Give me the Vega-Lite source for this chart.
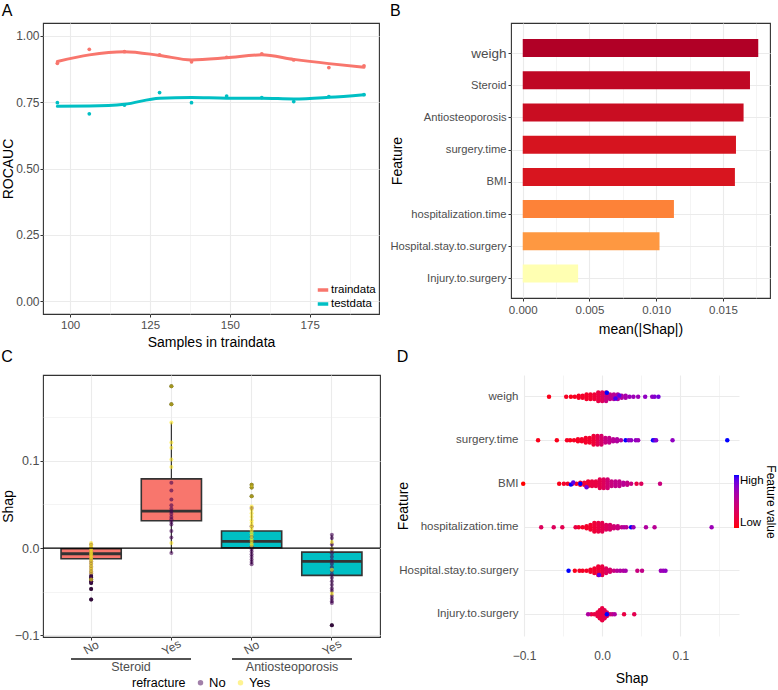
{
"$schema": "https://vega.github.io/schema/vega-lite/v6.json",
"padding": {"left": 0, "top": 2, "right": 0, "bottom": 0},
"config": {
  "font": "Liberation Sans",
  "view": {"stroke": "#333333", "strokeWidth": 1.1},
  "axis": {"domain": false, "labelColor": "#4D4D4D", "labelFontSize": 11.5, "titleFontSize": 14, "titleFontWeight": "normal", "titleColor": "#000000", "tickColor": "#333333", "tickSize": 3, "tickWidth": 1, "labelPadding": 2, "gridColor": "#EBEBEB", "gridWidth": 1.1, "labelFlush": false, "labelOverlap": false},
  "title": {"fontSize": 16, "fontWeight": "normal", "anchor": "start", "color": "#000000"},
  "legend": {"titleFontWeight": "normal", "titleColor": "#000000", "labelColor": "#000000"}
},
"datasets": {
  "rocData": [
    {"n":96,"set":"traindata","auc":0.896,"smooth":0.903},
    {"n":106,"set":"traindata","auc":0.949,"smooth":0.928},
    {"n":117,"set":"traindata","auc":0.940,"smooth":0.940},
    {"n":128,"set":"traindata","auc":0.928,"smooth":0.926},
    {"n":138,"set":"traindata","auc":0.902,"smooth":0.909},
    {"n":149,"set":"traindata","auc":0.919,"smooth":0.917},
    {"n":160,"set":"traindata","auc":0.932,"smooth":0.928},
    {"n":170,"set":"traindata","auc":0.909,"smooth":0.911},
    {"n":181,"set":"traindata","auc":0.880,"smooth":0.895},
    {"n":192,"set":"traindata","auc":0.887,"smooth":0.881},
    {"n":96,"set":"testdata","auc":0.748,"smooth":0.734},
    {"n":106,"set":"testdata","auc":0.706,"smooth":0.735},
    {"n":117,"set":"testdata","auc":0.739,"smooth":0.742},
    {"n":128,"set":"testdata","auc":0.786,"smooth":0.765},
    {"n":138,"set":"testdata","auc":0.748,"smooth":0.767},
    {"n":149,"set":"testdata","auc":0.773,"smooth":0.765},
    {"n":160,"set":"testdata","auc":0.767,"smooth":0.765},
    {"n":170,"set":"testdata","auc":0.752,"smooth":0.762},
    {"n":181,"set":"testdata","auc":0.771,"smooth":0.768},
    {"n":192,"set":"testdata","auc":0.778,"smooth":0.778}
  ],
  "shapImportance": [
    {"feature":"weigh","meanShap":0.01765},
    {"feature":"Steroid","meanShap":0.01703},
    {"feature":"Antiosteoporosis","meanShap":0.01655},
    {"feature":"surgery.time","meanShap":0.01598},
    {"feature":"BMI","meanShap":0.0159},
    {"feature":"hospitalization.time","meanShap":0.01133},
    {"feature":"Hospital.stay.to.surgery","meanShap":0.01025},
    {"feature":"Injury.to.surgery","meanShap":0.00415}
  ],
  "boxStats": [
    {"key":"Steroid No","grp":"Steroid","lower":-0.029,"q1":-0.0122,"median":-0.0065,"q3":-0.0008,"upper":0.0057},
    {"key":"Steroid Yes","grp":"Steroid","lower":-0.0057,"q1":0.0313,"median":0.0424,"q3":0.0794,"upper":0.144},
    {"key":"Antiosteoporosis No","grp":"Antiosteoporosis","lower":-0.0187,"q1":0.0004,"median":0.0076,"q3":0.0195,"upper":0.0477},
    {"key":"Antiosteoporosis Yes","grp":"Antiosteoporosis","lower":-0.063,"q1":-0.0313,"median":-0.0153,"q3":-0.0046,"upper":0.0153}
  ],
  "refracturePoints": [
    {"key":"Steroid No","refracture":"No","shap":0.004},
    {"key":"Steroid No","refracture":"No","shap":0.0},
    {"key":"Steroid No","refracture":"No","shap":-0.004},
    {"key":"Steroid No","refracture":"No","shap":-0.008},
    {"key":"Steroid No","refracture":"No","shap":-0.012},
    {"key":"Steroid No","refracture":"No","shap":-0.015},
    {"key":"Steroid No","refracture":"No","shap":-0.018},
    {"key":"Steroid No","refracture":"No","shap":-0.021},
    {"key":"Steroid No","refracture":"No","shap":-0.024},
    {"key":"Steroid No","refracture":"No","shap":-0.027},
    {"key":"Steroid No","refracture":"No","shap":-0.029},
    {"key":"Steroid No","refracture":"No","shap":-0.032,"outlier":true},
    {"key":"Steroid No","refracture":"No","shap":-0.034,"outlier":true},
    {"key":"Steroid No","refracture":"No","shap":-0.038,"outlier":true},
    {"key":"Steroid No","refracture":"No","shap":-0.040,"outlier":true},
    {"key":"Steroid No","refracture":"No","shap":-0.047,"outlier":true},
    {"key":"Steroid No","refracture":"No","shap":-0.059,"outlier":true},
    {"key":"Steroid No","refracture":"Yes","shap":0.0057},
    {"key":"Steroid No","refracture":"Yes","shap":0.003},
    {"key":"Steroid No","refracture":"Yes","shap":0.001},
    {"key":"Steroid No","refracture":"Yes","shap":-0.001},
    {"key":"Steroid No","refracture":"Yes","shap":-0.003},
    {"key":"Steroid No","refracture":"Yes","shap":-0.005},
    {"key":"Steroid No","refracture":"Yes","shap":-0.007},
    {"key":"Steroid No","refracture":"Yes","shap":-0.009},
    {"key":"Steroid No","refracture":"Yes","shap":-0.011},
    {"key":"Steroid No","refracture":"Yes","shap":-0.013},
    {"key":"Steroid No","refracture":"Yes","shap":-0.016},
    {"key":"Steroid No","refracture":"Yes","shap":-0.019},
    {"key":"Steroid No","refracture":"Yes","shap":-0.022},
    {"key":"Steroid No","refracture":"Yes","shap":-0.025},
    {"key":"Steroid No","refracture":"Yes","shap":-0.028},
    {"key":"Steroid No","refracture":"Yes","shap":-0.036,"outlier":true},
    {"key":"Steroid Yes","refracture":"No","shap":0.075},
    {"key":"Steroid Yes","refracture":"No","shap":0.066},
    {"key":"Steroid Yes","refracture":"No","shap":0.0557},
    {"key":"Steroid Yes","refracture":"No","shap":0.049},
    {"key":"Steroid Yes","refracture":"No","shap":0.045},
    {"key":"Steroid Yes","refracture":"No","shap":0.042},
    {"key":"Steroid Yes","refracture":"No","shap":0.039},
    {"key":"Steroid Yes","refracture":"No","shap":0.0355},
    {"key":"Steroid Yes","refracture":"No","shap":0.033},
    {"key":"Steroid Yes","refracture":"No","shap":0.030},
    {"key":"Steroid Yes","refracture":"No","shap":0.027},
    {"key":"Steroid Yes","refracture":"No","shap":0.0195},
    {"key":"Steroid Yes","refracture":"No","shap":0.012},
    {"key":"Steroid Yes","refracture":"No","shap":-0.0057},
    {"key":"Steroid Yes","refracture":"Yes","shap":0.1855,"outlier":true},
    {"key":"Steroid Yes","refracture":"Yes","shap":0.165,"outlier":true},
    {"key":"Steroid Yes","refracture":"Yes","shap":0.144},
    {"key":"Steroid Yes","refracture":"Yes","shap":0.121},
    {"key":"Steroid Yes","refracture":"Yes","shap":0.115},
    {"key":"Steroid Yes","refracture":"Yes","shap":0.1015},
    {"key":"Steroid Yes","refracture":"Yes","shap":0.093},
    {"key":"Steroid Yes","refracture":"Yes","shap":0.0057},
    {"key":"Antiosteoporosis No","refracture":"No","shap":0.046},
    {"key":"Antiosteoporosis No","refracture":"No","shap":0.025},
    {"key":"Antiosteoporosis No","refracture":"No","shap":0.013},
    {"key":"Antiosteoporosis No","refracture":"No","shap":0.002},
    {"key":"Antiosteoporosis No","refracture":"No","shap":-0.001},
    {"key":"Antiosteoporosis No","refracture":"No","shap":-0.004},
    {"key":"Antiosteoporosis No","refracture":"No","shap":-0.007},
    {"key":"Antiosteoporosis No","refracture":"No","shap":-0.010},
    {"key":"Antiosteoporosis No","refracture":"No","shap":-0.013},
    {"key":"Antiosteoporosis No","refracture":"No","shap":-0.016},
    {"key":"Antiosteoporosis No","refracture":"No","shap":-0.0187},
    {"key":"Antiosteoporosis No","refracture":"Yes","shap":0.0725,"outlier":true},
    {"key":"Antiosteoporosis No","refracture":"Yes","shap":0.0695,"outlier":true},
    {"key":"Antiosteoporosis No","refracture":"Yes","shap":0.0595,"outlier":true},
    {"key":"Antiosteoporosis No","refracture":"Yes","shap":0.0477},
    {"key":"Antiosteoporosis No","refracture":"Yes","shap":0.044},
    {"key":"Antiosteoporosis No","refracture":"Yes","shap":0.040},
    {"key":"Antiosteoporosis No","refracture":"Yes","shap":0.036},
    {"key":"Antiosteoporosis No","refracture":"Yes","shap":0.032},
    {"key":"Antiosteoporosis No","refracture":"Yes","shap":0.029},
    {"key":"Antiosteoporosis No","refracture":"Yes","shap":0.026},
    {"key":"Antiosteoporosis No","refracture":"Yes","shap":0.023},
    {"key":"Antiosteoporosis No","refracture":"Yes","shap":0.020},
    {"key":"Antiosteoporosis No","refracture":"Yes","shap":0.017},
    {"key":"Antiosteoporosis No","refracture":"Yes","shap":0.014},
    {"key":"Antiosteoporosis No","refracture":"Yes","shap":0.011},
    {"key":"Antiosteoporosis No","refracture":"Yes","shap":0.008},
    {"key":"Antiosteoporosis No","refracture":"Yes","shap":0.005},
    {"key":"Antiosteoporosis No","refracture":"Yes","shap":0.003},
    {"key":"Antiosteoporosis Yes","refracture":"No","shap":0.0153},
    {"key":"Antiosteoporosis Yes","refracture":"No","shap":0.0115},
    {"key":"Antiosteoporosis Yes","refracture":"No","shap":0.004},
    {"key":"Antiosteoporosis Yes","refracture":"No","shap":-0.002},
    {"key":"Antiosteoporosis Yes","refracture":"No","shap":-0.006},
    {"key":"Antiosteoporosis Yes","refracture":"No","shap":-0.010},
    {"key":"Antiosteoporosis Yes","refracture":"No","shap":-0.014},
    {"key":"Antiosteoporosis Yes","refracture":"No","shap":-0.018},
    {"key":"Antiosteoporosis Yes","refracture":"No","shap":-0.022},
    {"key":"Antiosteoporosis Yes","refracture":"No","shap":-0.026},
    {"key":"Antiosteoporosis Yes","refracture":"No","shap":-0.030},
    {"key":"Antiosteoporosis Yes","refracture":"No","shap":-0.034},
    {"key":"Antiosteoporosis Yes","refracture":"No","shap":-0.038},
    {"key":"Antiosteoporosis Yes","refracture":"No","shap":-0.042},
    {"key":"Antiosteoporosis Yes","refracture":"No","shap":-0.046},
    {"key":"Antiosteoporosis Yes","refracture":"No","shap":-0.049},
    {"key":"Antiosteoporosis Yes","refracture":"No","shap":-0.055},
    {"key":"Antiosteoporosis Yes","refracture":"No","shap":-0.058},
    {"key":"Antiosteoporosis Yes","refracture":"No","shap":-0.061},
    {"key":"Antiosteoporosis Yes","refracture":"No","shap":-0.063},
    {"key":"Antiosteoporosis Yes","refracture":"No","shap":-0.0885,"outlier":true},
    {"key":"Antiosteoporosis Yes","refracture":"Yes","shap":0.0069},
    {"key":"Antiosteoporosis Yes","refracture":"Yes","shap":-0.0008},
    {"key":"Antiosteoporosis Yes","refracture":"Yes","shap":-0.025},
    {"key":"Antiosteoporosis Yes","refracture":"Yes","shap":-0.052}
  ],
  "shapPoints": [
    {"feature":"weigh","shap":0,"off":-0.1,"val":0.3},{"feature":"weigh","shap":0,"off":-0.05,"val":0.3},{"feature":"weigh","shap":0,"off":0,"val":0.3},{"feature":"weigh","shap":0,"off":0.05,"val":0.3},{"feature":"weigh","shap":0,"off":0.1,"val":0.3},
    {"feature":"weigh","shap":-0.005,"off":-0.1,"val":0.2},{"feature":"weigh","shap":-0.005,"off":-0.05,"val":0.2},{"feature":"weigh","shap":-0.005,"off":0,"val":0.2},{"feature":"weigh","shap":-0.005,"off":0.05,"val":0.2},{"feature":"weigh","shap":-0.005,"off":0.1,"val":0.2},
    {"feature":"weigh","shap":0.005,"off":-0.1,"val":0.45},{"feature":"weigh","shap":0.005,"off":-0.05,"val":0.45},{"feature":"weigh","shap":0.005,"off":0,"val":0.45},{"feature":"weigh","shap":0.005,"off":0.05,"val":0.45},{"feature":"weigh","shap":0.005,"off":0.1,"val":0.45},
    {"feature":"weigh","shap":-0.01,"off":-0.05,"val":0.15},{"feature":"weigh","shap":-0.01,"off":0,"val":0.15},{"feature":"weigh","shap":-0.01,"off":0.05,"val":0.15},
    {"feature":"weigh","shap":0.01,"off":-0.05,"val":0.5},{"feature":"weigh","shap":0.01,"off":0,"val":0.5},{"feature":"weigh","shap":0.01,"off":0.05,"val":0.5},
    {"feature":"weigh","shap":-0.015,"off":-0.05,"val":0.12},{"feature":"weigh","shap":-0.015,"off":0,"val":0.12},{"feature":"weigh","shap":-0.015,"off":0.05,"val":0.12},
    {"feature":"weigh","shap":0.015,"off":-0.05,"val":0.55},{"feature":"weigh","shap":0.015,"off":0,"val":0.55},{"feature":"weigh","shap":0.015,"off":0.05,"val":0.55},
    {"feature":"weigh","shap":-0.02,"off":-0.05,"val":0.1},{"feature":"weigh","shap":-0.02,"off":0,"val":0.1},{"feature":"weigh","shap":-0.02,"off":0.05,"val":0.1},
    {"feature":"weigh","shap":0.02,"off":-0.05,"val":0.6},{"feature":"weigh","shap":0.02,"off":0,"val":0.6},{"feature":"weigh","shap":0.02,"off":0.05,"val":0.6},
    {"feature":"weigh","shap":-0.025,"off":-0.025,"val":0.1},{"feature":"weigh","shap":-0.025,"off":0.025,"val":0.1},
    {"feature":"weigh","shap":0.025,"off":-0.025,"val":0.6},{"feature":"weigh","shap":0.025,"off":0.025,"val":0.6},
    {"feature":"weigh","shap":-0.03,"off":-0.025,"val":0.08},{"feature":"weigh","shap":-0.03,"off":0.025,"val":0.08},
    {"feature":"weigh","shap":0.03,"off":-0.025,"val":0.65},{"feature":"weigh","shap":0.03,"off":0.025,"val":0.65},
    {"feature":"weigh","shap":-0.035,"off":0,"val":0.08},{"feature":"weigh","shap":0.035,"off":0,"val":0.7},
    {"feature":"weigh","shap":-0.04,"off":0,"val":0.05},{"feature":"weigh","shap":0.04,"off":0,"val":0.7},
    {"feature":"weigh","shap":-0.068,"off":0,"val":0.05},{"feature":"weigh","shap":-0.046,"off":0,"val":0.08},
    {"feature":"weigh","shap":0.046,"off":0,"val":0.7},{"feature":"weigh","shap":0.055,"off":0,"val":0.75},{"feature":"weigh","shap":0.064,"off":0,"val":0.75},{"feature":"weigh","shap":0.067,"off":0,"val":0.8},{"feature":"weigh","shap":0.072,"off":0,"val":0.85},
    {"feature":"weigh","shap":0.006,"off":-0.09,"val":1},{"feature":"weigh","shap":0.017,"off":0.04,"val":0.95},{"feature":"weigh","shap":0.022,"off":-0.03,"val":0.9},

    {"feature":"surgery.time","shap":-0.006,"off":-0.1,"val":0.25},{"feature":"surgery.time","shap":-0.006,"off":-0.05,"val":0.25},{"feature":"surgery.time","shap":-0.006,"off":0,"val":0.25},{"feature":"surgery.time","shap":-0.006,"off":0.05,"val":0.25},{"feature":"surgery.time","shap":-0.006,"off":0.1,"val":0.25},
    {"feature":"surgery.time","shap":-0.011,"off":-0.1,"val":0.15},{"feature":"surgery.time","shap":-0.011,"off":-0.05,"val":0.15},{"feature":"surgery.time","shap":-0.011,"off":0,"val":0.15},{"feature":"surgery.time","shap":-0.011,"off":0.05,"val":0.15},{"feature":"surgery.time","shap":-0.011,"off":0.1,"val":0.15},
    {"feature":"surgery.time","shap":-0.001,"off":-0.1,"val":0.35},{"feature":"surgery.time","shap":-0.001,"off":-0.05,"val":0.35},{"feature":"surgery.time","shap":-0.001,"off":0,"val":0.35},{"feature":"surgery.time","shap":-0.001,"off":0.05,"val":0.35},{"feature":"surgery.time","shap":-0.001,"off":0.1,"val":0.35},
    {"feature":"surgery.time","shap":-0.016,"off":-0.05,"val":0.12},{"feature":"surgery.time","shap":-0.016,"off":0,"val":0.12},{"feature":"surgery.time","shap":-0.016,"off":0.05,"val":0.12},
    {"feature":"surgery.time","shap":0.004,"off":-0.05,"val":0.45},{"feature":"surgery.time","shap":0.004,"off":0,"val":0.45},{"feature":"surgery.time","shap":0.004,"off":0.05,"val":0.45},
    {"feature":"surgery.time","shap":-0.021,"off":-0.05,"val":0.1},{"feature":"surgery.time","shap":-0.021,"off":0,"val":0.1},{"feature":"surgery.time","shap":-0.021,"off":0.05,"val":0.1},
    {"feature":"surgery.time","shap":0.009,"off":-0.05,"val":0.5},{"feature":"surgery.time","shap":0.009,"off":0,"val":0.5},{"feature":"surgery.time","shap":0.009,"off":0.05,"val":0.5},
    {"feature":"surgery.time","shap":-0.026,"off":-0.025,"val":0.1},{"feature":"surgery.time","shap":-0.026,"off":0.025,"val":0.1},
    {"feature":"surgery.time","shap":0.014,"off":-0.025,"val":0.55},{"feature":"surgery.time","shap":0.014,"off":0.025,"val":0.55},
    {"feature":"surgery.time","shap":-0.031,"off":-0.025,"val":0.08},{"feature":"surgery.time","shap":-0.031,"off":0.025,"val":0.08},
    {"feature":"surgery.time","shap":0.019,"off":-0.025,"val":0.6},{"feature":"surgery.time","shap":0.019,"off":0.025,"val":0.6},
    {"feature":"surgery.time","shap":-0.036,"off":0,"val":0.08},{"feature":"surgery.time","shap":0.024,"off":0,"val":0.6},{"feature":"surgery.time","shap":-0.041,"off":0,"val":0.05},
    {"feature":"surgery.time","shap":-0.082,"off":0,"val":0.05},{"feature":"surgery.time","shap":-0.058,"off":0,"val":0.05},{"feature":"surgery.time","shap":-0.045,"off":0,"val":0.08},
    {"feature":"surgery.time","shap":0.030,"off":0,"val":1},{"feature":"surgery.time","shap":0.034,"off":0,"val":0.8},{"feature":"surgery.time","shap":0.037,"off":0,"val":0.75},{"feature":"surgery.time","shap":0.043,"off":0,"val":0.75},{"feature":"surgery.time","shap":0.046,"off":0,"val":0.7},
    {"feature":"surgery.time","shap":0.065,"off":0,"val":1},{"feature":"surgery.time","shap":0.067,"off":0,"val":0.95},{"feature":"surgery.time","shap":0.069,"off":0,"val":0.8},{"feature":"surgery.time","shap":0.09,"off":0,"val":0.75},{"feature":"surgery.time","shap":0.16,"off":0,"val":1},

    {"feature":"BMI","shap":0.002,"off":-0.1,"val":0.3},{"feature":"BMI","shap":0.002,"off":-0.05,"val":0.3},{"feature":"BMI","shap":0.002,"off":0,"val":0.3},{"feature":"BMI","shap":0.002,"off":0.05,"val":0.3},{"feature":"BMI","shap":0.002,"off":0.1,"val":0.3},
    {"feature":"BMI","shap":-0.003,"off":-0.1,"val":0.25},{"feature":"BMI","shap":-0.003,"off":-0.05,"val":0.25},{"feature":"BMI","shap":-0.003,"off":0,"val":0.25},{"feature":"BMI","shap":-0.003,"off":0.05,"val":0.25},{"feature":"BMI","shap":-0.003,"off":0.1,"val":0.25},
    {"feature":"BMI","shap":0.007,"off":-0.1,"val":0.4},{"feature":"BMI","shap":0.007,"off":-0.05,"val":0.4},{"feature":"BMI","shap":0.007,"off":0,"val":0.4},{"feature":"BMI","shap":0.007,"off":0.05,"val":0.4},{"feature":"BMI","shap":0.007,"off":0.1,"val":0.4},
    {"feature":"BMI","shap":-0.008,"off":-0.05,"val":0.2},{"feature":"BMI","shap":-0.008,"off":0,"val":0.2},{"feature":"BMI","shap":-0.008,"off":0.05,"val":0.2},
    {"feature":"BMI","shap":0.012,"off":-0.05,"val":0.45},{"feature":"BMI","shap":0.012,"off":0,"val":0.45},{"feature":"BMI","shap":0.012,"off":0.05,"val":0.45},
    {"feature":"BMI","shap":-0.013,"off":-0.05,"val":0.2},{"feature":"BMI","shap":-0.013,"off":0,"val":0.2},{"feature":"BMI","shap":-0.013,"off":0.05,"val":0.2},
    {"feature":"BMI","shap":0.017,"off":-0.05,"val":0.5},{"feature":"BMI","shap":0.017,"off":0,"val":0.5},{"feature":"BMI","shap":0.017,"off":0.05,"val":0.5},
    {"feature":"BMI","shap":-0.018,"off":-0.05,"val":0.15},{"feature":"BMI","shap":-0.018,"off":0,"val":0.15},{"feature":"BMI","shap":-0.018,"off":0.05,"val":0.15},
    {"feature":"BMI","shap":0.022,"off":-0.05,"val":0.5},{"feature":"BMI","shap":0.022,"off":0,"val":0.5},{"feature":"BMI","shap":0.022,"off":0.05,"val":0.5},
    {"feature":"BMI","shap":-0.023,"off":-0.025,"val":0.15},{"feature":"BMI","shap":-0.023,"off":0.025,"val":0.15},
    {"feature":"BMI","shap":0.027,"off":-0.025,"val":0.55},{"feature":"BMI","shap":0.027,"off":0.025,"val":0.55},
    {"feature":"BMI","shap":-0.028,"off":-0.025,"val":0.1},{"feature":"BMI","shap":-0.028,"off":0.025,"val":0.1},
    {"feature":"BMI","shap":0.032,"off":-0.025,"val":0.5},{"feature":"BMI","shap":0.032,"off":0.025,"val":0.5},
    {"feature":"BMI","shap":-0.033,"off":0,"val":0.1},{"feature":"BMI","shap":0.037,"off":0,"val":0.45},{"feature":"BMI","shap":-0.038,"off":0,"val":0.1},
    {"feature":"BMI","shap":-0.101,"off":0,"val":0},{"feature":"BMI","shap":-0.055,"off":0,"val":0.05},{"feature":"BMI","shap":-0.049,"off":0,"val":0.1},{"feature":"BMI","shap":-0.044,"off":0,"val":0.1},
    {"feature":"BMI","shap":-0.040,"off":0.02,"val":1},{"feature":"BMI","shap":-0.037,"off":-0.03,"val":0.9},{"feature":"BMI","shap":-0.028,"off":0,"val":1},{"feature":"BMI","shap":-0.02,"off":0.08,"val":0.85},
    {"feature":"BMI","shap":0.044,"off":0,"val":0.2},{"feature":"BMI","shap":0.05,"off":0,"val":0.3},{"feature":"BMI","shap":0.074,"off":0,"val":0.45},

    {"feature":"hospitalization.time","shap":-0.005,"off":-0.1,"val":0.2},{"feature":"hospitalization.time","shap":-0.005,"off":-0.05,"val":0.2},{"feature":"hospitalization.time","shap":-0.005,"off":0,"val":0.2},{"feature":"hospitalization.time","shap":-0.005,"off":0.05,"val":0.2},{"feature":"hospitalization.time","shap":-0.005,"off":0.1,"val":0.2},
    {"feature":"hospitalization.time","shap":-0.01,"off":-0.1,"val":0.15},{"feature":"hospitalization.time","shap":-0.01,"off":-0.05,"val":0.15},{"feature":"hospitalization.time","shap":-0.01,"off":0,"val":0.15},{"feature":"hospitalization.time","shap":-0.01,"off":0.05,"val":0.15},{"feature":"hospitalization.time","shap":-0.01,"off":0.1,"val":0.15},
    {"feature":"hospitalization.time","shap":0,"off":-0.1,"val":0.25},{"feature":"hospitalization.time","shap":0,"off":-0.05,"val":0.25},{"feature":"hospitalization.time","shap":0,"off":0,"val":0.25},{"feature":"hospitalization.time","shap":0,"off":0.05,"val":0.25},{"feature":"hospitalization.time","shap":0,"off":0.1,"val":0.25},
    {"feature":"hospitalization.time","shap":-0.015,"off":-0.05,"val":0.12},{"feature":"hospitalization.time","shap":-0.015,"off":0,"val":0.12},{"feature":"hospitalization.time","shap":-0.015,"off":0.05,"val":0.12},
    {"feature":"hospitalization.time","shap":0.005,"off":-0.05,"val":0.3},{"feature":"hospitalization.time","shap":0.005,"off":0,"val":0.3},{"feature":"hospitalization.time","shap":0.005,"off":0.05,"val":0.3},
    {"feature":"hospitalization.time","shap":-0.02,"off":-0.025,"val":0.1},{"feature":"hospitalization.time","shap":-0.02,"off":0.025,"val":0.1},
    {"feature":"hospitalization.time","shap":0.01,"off":-0.05,"val":0.35},{"feature":"hospitalization.time","shap":0.01,"off":0,"val":0.35},{"feature":"hospitalization.time","shap":0.01,"off":0.05,"val":0.35},
    {"feature":"hospitalization.time","shap":-0.025,"off":0,"val":0.1},
    {"feature":"hospitalization.time","shap":0.015,"off":-0.025,"val":0.4},{"feature":"hospitalization.time","shap":0.015,"off":0.025,"val":0.4},
    {"feature":"hospitalization.time","shap":-0.03,"off":0,"val":0.1},
    {"feature":"hospitalization.time","shap":0.02,"off":-0.025,"val":0.45},{"feature":"hospitalization.time","shap":0.02,"off":0.025,"val":0.45},
    {"feature":"hospitalization.time","shap":0.025,"off":0,"val":0.5},
    {"feature":"hospitalization.time","shap":-0.078,"off":0,"val":0.3},{"feature":"hospitalization.time","shap":-0.062,"off":0,"val":0.3},{"feature":"hospitalization.time","shap":-0.051,"off":0,"val":0.25},{"feature":"hospitalization.time","shap":-0.034,"off":0,"val":0.2},
    {"feature":"hospitalization.time","shap":0.028,"off":0,"val":0.6},{"feature":"hospitalization.time","shap":0.031,"off":0,"val":0.55},{"feature":"hospitalization.time","shap":0.037,"off":0,"val":1},{"feature":"hospitalization.time","shap":0.040,"off":0,"val":0.7},
    {"feature":"hospitalization.time","shap":0.056,"off":0,"val":0.6},{"feature":"hospitalization.time","shap":0.067,"off":0,"val":0.55},{"feature":"hospitalization.time","shap":0.14,"off":0,"val":0.7},

    {"feature":"Hospital.stay.to.surgery","shap":0,"off":-0.1,"val":0.2},{"feature":"Hospital.stay.to.surgery","shap":0,"off":-0.05,"val":0.2},{"feature":"Hospital.stay.to.surgery","shap":0,"off":0,"val":0.2},{"feature":"Hospital.stay.to.surgery","shap":0,"off":0.05,"val":0.2},{"feature":"Hospital.stay.to.surgery","shap":0,"off":0.1,"val":0.2},
    {"feature":"Hospital.stay.to.surgery","shap":-0.005,"off":-0.1,"val":0.15},{"feature":"Hospital.stay.to.surgery","shap":-0.005,"off":-0.05,"val":0.15},{"feature":"Hospital.stay.to.surgery","shap":-0.005,"off":0,"val":0.15},{"feature":"Hospital.stay.to.surgery","shap":-0.005,"off":0.05,"val":0.15},{"feature":"Hospital.stay.to.surgery","shap":-0.005,"off":0.1,"val":0.15},
    {"feature":"Hospital.stay.to.surgery","shap":0.005,"off":-0.05,"val":0.3},{"feature":"Hospital.stay.to.surgery","shap":0.005,"off":0,"val":0.3},{"feature":"Hospital.stay.to.surgery","shap":0.005,"off":0.05,"val":0.3},
    {"feature":"Hospital.stay.to.surgery","shap":-0.01,"off":-0.05,"val":0.12},{"feature":"Hospital.stay.to.surgery","shap":-0.01,"off":0,"val":0.12},{"feature":"Hospital.stay.to.surgery","shap":-0.01,"off":0.05,"val":0.12},
    {"feature":"Hospital.stay.to.surgery","shap":0.01,"off":-0.025,"val":0.35},{"feature":"Hospital.stay.to.surgery","shap":0.01,"off":0.025,"val":0.35},
    {"feature":"Hospital.stay.to.surgery","shap":-0.015,"off":-0.025,"val":0.1},{"feature":"Hospital.stay.to.surgery","shap":-0.015,"off":0.025,"val":0.1},
    {"feature":"Hospital.stay.to.surgery","shap":0.015,"off":0,"val":0.45},{"feature":"Hospital.stay.to.surgery","shap":-0.02,"off":0,"val":0.1},{"feature":"Hospital.stay.to.surgery","shap":-0.025,"off":0,"val":0.08},
    {"feature":"Hospital.stay.to.surgery","shap":-0.043,"off":0,"val":1},{"feature":"Hospital.stay.to.surgery","shap":-0.035,"off":0,"val":0.05},{"feature":"Hospital.stay.to.surgery","shap":-0.029,"off":0,"val":0.1},{"feature":"Hospital.stay.to.surgery","shap":-0.004,"off":0.1,"val":0.9},
    {"feature":"Hospital.stay.to.surgery","shap":0.019,"off":0,"val":0.55},{"feature":"Hospital.stay.to.surgery","shap":0.023,"off":0,"val":0.6},{"feature":"Hospital.stay.to.surgery","shap":0.027,"off":0,"val":0.6},{"feature":"Hospital.stay.to.surgery","shap":0.030,"off":0,"val":0.65},
    {"feature":"Hospital.stay.to.surgery","shap":0.045,"off":0,"val":0.45},{"feature":"Hospital.stay.to.surgery","shap":0.051,"off":0,"val":0.5},{"feature":"Hospital.stay.to.surgery","shap":0.075,"off":0,"val":0.7},{"feature":"Hospital.stay.to.surgery","shap":0.078,"off":0,"val":0.7},{"feature":"Hospital.stay.to.surgery","shap":0.081,"off":0,"val":0.75},

    {"feature":"Injury.to.surgery","shap":0,"off":-0.14,"val":0.2},{"feature":"Injury.to.surgery","shap":0,"off":-0.07,"val":0.2},{"feature":"Injury.to.surgery","shap":0,"off":0,"val":0.2},{"feature":"Injury.to.surgery","shap":0,"off":0.07,"val":0.2},{"feature":"Injury.to.surgery","shap":0,"off":0.14,"val":0.2},
    {"feature":"Injury.to.surgery","shap":-0.003,"off":-0.09,"val":0.2},{"feature":"Injury.to.surgery","shap":-0.003,"off":-0.03,"val":0.2},{"feature":"Injury.to.surgery","shap":-0.003,"off":0.03,"val":0.2},{"feature":"Injury.to.surgery","shap":-0.003,"off":0.09,"val":0.2},
    {"feature":"Injury.to.surgery","shap":0.003,"off":-0.09,"val":0.25},{"feature":"Injury.to.surgery","shap":0.003,"off":-0.03,"val":0.25},{"feature":"Injury.to.surgery","shap":0.003,"off":0.03,"val":0.25},{"feature":"Injury.to.surgery","shap":0.003,"off":0.09,"val":0.25},
    {"feature":"Injury.to.surgery","shap":-0.006,"off":-0.04,"val":0.2},{"feature":"Injury.to.surgery","shap":-0.006,"off":0.04,"val":0.2},
    {"feature":"Injury.to.surgery","shap":0.006,"off":-0.04,"val":0.3},{"feature":"Injury.to.surgery","shap":0.006,"off":0.04,"val":0.3},
    {"feature":"Injury.to.surgery","shap":-0.01,"off":0,"val":0.2},{"feature":"Injury.to.surgery","shap":0.01,"off":0,"val":0.4},{"feature":"Injury.to.surgery","shap":-0.014,"off":0,"val":0.2},{"feature":"Injury.to.surgery","shap":0.013,"off":0,"val":0.5},
    {"feature":"Injury.to.surgery","shap":-0.018,"off":0,"val":0.6},{"feature":"Injury.to.surgery","shap":0.016,"off":0,"val":0.6},
    {"feature":"Injury.to.surgery","shap":0.006,"off":0,"val":1},{"feature":"Injury.to.surgery","shap":0.028,"off":0,"val":0.2},{"feature":"Injury.to.surgery","shap":0.041,"off":0,"val":0.25}
  ]
},
"spacing": -3,
"resolve": {"scale": {"color": "independent", "fill": "independent"}, "legend": {"color": "independent"}},
"vconcat": [
  {
    "columns": 2,
    "align": "none",
    "spacing": 9,
    "resolve": {"scale": {"color": "independent", "fill": "independent"}, "legend": {"color": "independent"}},
    "concat": [
      {
        "width": 336, "height": 291,
        "title": {"text": "A", "offset": 4},
        "data": {"name": "rocData"},
        "encoding": {
          "x": {"field": "n", "type": "quantitative", "scale": {"domain": [91.5, 196.7], "nice": false, "zero": false},
            "axis": {"title": "Samples in traindata", "values": [100, 112.5, 125, 137.5, 150, 162.5, 175, 187.5],
              "labelExpr": "datum.value % 25 == 0 ? format(datum.value, 'd') : ''",
              "gridWidth": {"condition": {"test": "datum.value % 25 != 0", "value": 0.55}, "value": 1.1},
              "tickOpacity": {"condition": {"test": "datum.value % 25 != 0", "value": 0}, "value": 1},
              "labelPadding": 2, "titlePadding": 5}},
          "color": {"field": "set", "type": "nominal", "scale": {"domain": ["traindata", "testdata"], "range": ["#F8766D", "#00BFC4"]},
            "legend": {"orient": "bottom-right", "offset": 3, "title": null, "symbolType": "stroke", "symbolStrokeWidth": 3.5, "symbolSize": 110, "labelFontSize": 11.5, "labelOffset": 1, "rowPadding": 0, "padding": 0}}
        },
        "layer": [
          {"mark": {"type": "circle", "size": 14, "opacity": 1},
           "encoding": {"y": {"field": "auc", "type": "quantitative", "title": "ROCAUC", "scale": {"domain": [-0.048, 1.048], "nice": false, "zero": false},
             "axis": {"values": [0, 0.125, 0.25, 0.375, 0.5, 0.625, 0.75, 0.875, 1],
               "labelExpr": "abs(datum.value*4 - round(datum.value*4)) > 0.01 ? '' : format(datum.value, '.2f')",
               "gridWidth": {"condition": {"test": "abs(datum.value*4 - round(datum.value*4)) > 0.01", "value": 0.55}, "value": 1.1},
               "tickOpacity": {"condition": {"test": "abs(datum.value*4 - round(datum.value*4)) > 0.01", "value": 0}, "value": 1},
               "labelPadding": 1, "titlePadding": 0, "labelFontSize": 12}}}},
          {"mark": {"type": "line", "interpolate": "monotone", "strokeWidth": 3, "strokeCap": "round"},
           "encoding": {"y": {"field": "smooth", "type": "quantitative", "title": "ROCAUC", "scale": {"domain": [-0.048, 1.048], "nice": false, "zero": false}}}}
        ]
      },
      {
        "width": 259, "height": 275,
        "title": {"text": "B", "offset": 4},
        "data": {"name": "shapImportance"},
        "mark": {"type": "bar", "height": {"band": 1}},
        "encoding": {
          "y": {"field": "feature", "type": "nominal", "sort": ["weigh", "Steroid", "Antiosteoporosis", "surgery.time", "BMI", "hospitalization.time", "Hospital.stay.to.surgery", "Injury.to.surgery"],
            "scale": {"type": "band", "paddingInner": 0.1, "paddingOuter": 0.32, "align": 0.78},
            "axis": {"title": "Feature", "grid": true, "bandPosition": 0.5, "labelPadding": 2, "titlePadding": -15,
              "labelFontSize": {"condition": {"test": "datum.value == 'weigh'", "value": 13.5}, "value": 11.2}}},
          "x": {"field": "meanShap", "type": "quantitative", "scale": {"domain": [-0.00088, 0.01853], "nice": false},
            "axis": {"title": "mean(|Shap|)", "values": [0, 0.0025, 0.005, 0.0075, 0.01, 0.0125, 0.015, 0.0175],
              "labelExpr": "abs(datum.value*200 - round(datum.value*200)) > 0.01 ? '' : format(datum.value, '.3f')",
              "gridWidth": {"condition": {"test": "abs(datum.value*200 - round(datum.value*200)) > 0.01", "value": 0.55}, "value": 1.1},
              "tickOpacity": {"condition": {"test": "abs(datum.value*200 - round(datum.value*200)) > 0.01", "value": 0}, "value": 1},
              "labelPadding": 3, "titlePadding": 7}},
          "color": {"field": "meanShap", "type": "quantitative",
            "scale": {"domain": [0.00415, 0.01765], "range": ["#FFFFB2", "#FED976", "#FEB24C", "#FD8D3C", "#FC4E2A", "#E31A1C", "#B10026"], "interpolate": "lab"},
            "legend": null}
        }
      }
    ]
  },
  {
    "columns": 2,
    "align": "none",
    "spacing": 14,
    "resolve": {"scale": {"color": "independent", "fill": "independent"}, "legend": {"color": "independent"}},
    "concat": [
      {
        "spacing": -3,
        "resolve": {"scale": {"color": "independent", "fill": "independent"}, "legend": {"color": "independent"}},
        "vconcat": [
          {
            "width": 337, "height": 262,
            "title": {"text": "C", "offset": 10},
            "layer": [
              {"data": {"name": "boxStats"},
               "mark": {"type": "rule", "color": "#333333", "strokeWidth": 1.2},
               "encoding": {
                 "x": {"field": "key", "type": "nominal", "sort": ["Steroid No", "Steroid Yes", "Antiosteoporosis No", "Antiosteoporosis Yes"],
                   "scale": {"type": "band", "paddingInner": 0, "paddingOuter": 0.1},
                   "axis": {"title": null, "labelExpr": "indexof(datum.label, 'Yes') >= 0 ? 'Yes' : 'No'", "labelAngle": -30, "labelAlign": "center", "labelBaseline": "middle", "labelPadding": 7, "grid": true, "bandPosition": 0.5, "labelFontSize": 12}},
                 "y": {"field": "lower", "type": "quantitative", "title": "Shap", "scale": {"domain": [-0.102, 0.1985], "nice": false, "zero": false},
                   "axis": {"values": [-0.1, -0.05, 0, 0.05, 0.1, 0.15],
                     "labelExpr": "abs(datum.value*10 - round(datum.value*10)) > 0.01 ? '' : format(datum.value, '.1f')",
                     "gridWidth": {"condition": {"test": "abs(datum.value*10 - round(datum.value*10)) > 0.01", "value": 0.55}, "value": 1.1},
                     "tickOpacity": {"condition": {"test": "abs(datum.value*10 - round(datum.value*10)) > 0.01", "value": 0}, "value": 1},
                     "labelPadding": 1, "titlePadding": -1, "labelFontSize": 12.5}},
                 "y2": {"field": "upper"}}},
              {"data": {"name": "boxStats"},
               "mark": {"type": "bar", "width": {"band": 0.75}, "stroke": "#333333", "strokeWidth": 1.6},
               "encoding": {
                 "x": {"field": "key", "type": "nominal", "sort": ["Steroid No", "Steroid Yes", "Antiosteoporosis No", "Antiosteoporosis Yes"]},
                 "y": {"field": "q1", "type": "quantitative", "title": "Shap", "scale": {"domain": [-0.102, 0.1985], "nice": false, "zero": false}},
                 "y2": {"field": "q3"},
                 "fill": {"field": "grp", "type": "nominal", "scale": {"domain": ["Steroid", "Antiosteoporosis"], "range": ["#F8766D", "#00BFC4"]}, "legend": null}}},
              {"data": {"name": "boxStats"},
               "mark": {"type": "tick", "color": "#333333", "thickness": 2.8, "size": 60, "opacity": 1},
               "encoding": {
                 "x": {"field": "key", "type": "nominal", "sort": ["Steroid No", "Steroid Yes", "Antiosteoporosis No", "Antiosteoporosis Yes"]},
                 "y": {"field": "median", "type": "quantitative", "title": "Shap", "scale": {"domain": [-0.102, 0.1985], "nice": false, "zero": false}}}},
              {"data": {"name": "refracturePoints"},
               "transform": [{"filter": "datum.outlier"}],
               "mark": {"type": "circle", "size": 16, "color": "#1A1A1A", "opacity": 1},
               "encoding": {
                 "x": {"field": "key", "type": "nominal", "sort": ["Steroid No", "Steroid Yes", "Antiosteoporosis No", "Antiosteoporosis Yes"]},
                 "y": {"field": "shap", "type": "quantitative", "title": "Shap", "scale": {"domain": [-0.102, 0.1985], "nice": false, "zero": false}}}},
              {"data": {"name": "refracturePoints"},
               "mark": {"type": "circle", "size": 16, "opacity": 0.6},
               "encoding": {
                 "x": {"field": "key", "type": "nominal", "sort": ["Steroid No", "Steroid Yes", "Antiosteoporosis No", "Antiosteoporosis Yes"]},
                 "y": {"field": "shap", "type": "quantitative", "title": "Shap", "scale": {"domain": [-0.102, 0.1985], "nice": false, "zero": false}},
                 "color": {"field": "refracture", "type": "nominal", "scale": {"domain": ["No", "Yes"], "range": ["#440154", "#FDE725"]}, "legend": null}}},
              {"data": {"values": [{}]},
               "mark": {"type": "rule", "color": "#000000", "strokeWidth": 1.3},
               "encoding": {"y": {"datum": 0, "type": "quantitative", "title": "Shap", "scale": {"domain": [-0.102, 0.1985], "nice": false, "zero": false}}}}
            ]
          },
          {
            "width": 337, "height": 2,
            "view": {"stroke": null},
            "layer": [
              {"data": {"values": [{"group": "Steroid"}, {"group": "Antiosteoporosis"}]},
               "mark": {"type": "rule", "color": "#1A1A1A", "strokeWidth": 1.6},
               "encoding": {
                 "x": {"field": "group", "type": "nominal", "sort": ["Steroid", "Antiosteoporosis"], "bandPosition": 0,
                   "scale": {"type": "band", "paddingInner": 0.2547, "paddingOuter": 0.174},
                   "axis": {"title": null, "domain": false, "ticks": false, "grid": false, "labelAngle": 0, "labelPadding": 0, "labelFontSize": 12.5, "labelColor": "#4D4D4D", "bandPosition": 0.5}},
                 "x2": {"field": "group", "bandPosition": 1}}},
              {"data": {"name": "refracturePoints"},
               "mark": {"type": "circle", "opacity": 0},
               "encoding": {"color": {"field": "refracture", "type": "nominal", "scale": {"domain": ["No", "Yes"], "range": ["#440154", "#FDE725"]},
                 "legend": {"orient": "none", "legendX": 89, "legendY": 18, "direction": "horizontal", "title": "refracture", "titleOrient": "left", "titleFontSize": 12.5, "labelFontSize": 13, "symbolType": "circle", "symbolSize": 30, "symbolOpacity": 0.5, "symbolStrokeWidth": 0, "columnPadding": 8, "labelOffset": 2, "titlePadding": 8}}}}
            ]
          }
        ]
      },
      {
        "width": 215, "height": 261,
        "view": {"stroke": null},
        "title": {"text": "D", "offset": 10},
        "data": {"name": "shapPoints"},
        "mark": {"type": "circle", "size": 20, "opacity": 1},
        "encoding": {
          "x": {"field": "shap", "type": "quantitative", "scale": {"domain": [-0.1, 0.175], "nice": false, "zero": false},
            "axis": {"title": "Shap", "values": [-0.1, -0.05, 0, 0.05, 0.1, 0.15],
              "labelExpr": "abs(datum.value*10 - round(datum.value*10)) > 0.01 ? '' : format(datum.value, '.1f')",
              "gridWidth": {"condition": {"test": "abs(datum.value*10 - round(datum.value*10)) > 0.01", "value": 0.55}, "value": 1.1},
              "ticks": false, "labelPadding": 14, "titlePadding": 10, "labelFontSize": 12}},
          "y": {"field": "feature", "type": "nominal", "sort": ["weigh", "surgery.time", "BMI", "hospitalization.time", "Hospital.stay.to.surgery", "Injury.to.surgery"],
            "scale": {"type": "band", "paddingInner": 0, "paddingOuter": 0},
            "axis": {"title": "Feature", "ticks": false, "grid": true, "bandPosition": 0.5, "labelPadding": 6, "titlePadding": -12, "labelFontSize": 11.5}},
          "yOffset": {"field": "off", "type": "quantitative", "scale": {"domain": [-0.5, 0.5]}},
          "color": {"field": "val", "type": "quantitative", "scale": {"domain": [0, 1], "range": ["#FF0000", "#0000FF"], "interpolate": "lab"},
            "legend": {"orient": "none", "legendX": 210, "legendY": 100, "title": "Feature value", "titleOrient": "right", "titleAngle": 90, "titleFontSize": 12, "titleAnchor": "middle", "titlePadding": 0,
              "gradientLength": 53, "gradientThickness": 5, "gradientStrokeWidth": 0, "values": [0, 1], "labelExpr": "datum.value >= 1 ? 'High' : 'Low'", "labelFontSize": 11.5, "labelOffset": 1, "direction": "vertical"}}
        }
      }
    ]
  }
]
}
